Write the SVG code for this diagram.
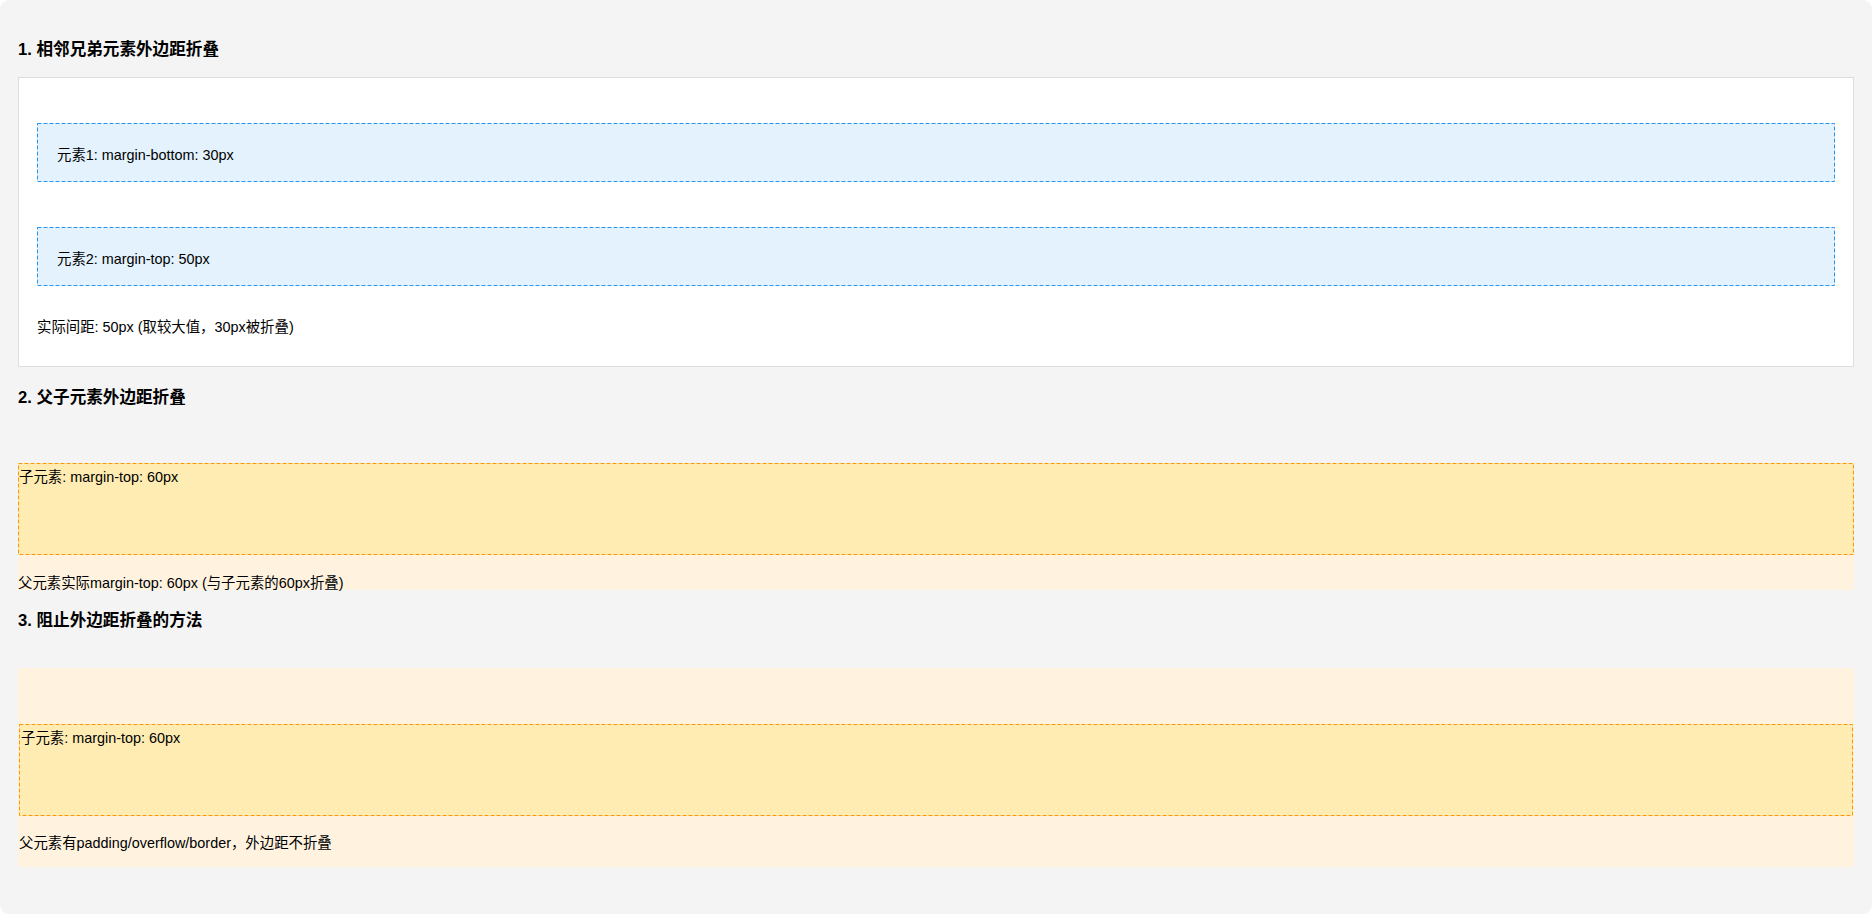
<svg xmlns="http://www.w3.org/2000/svg" width="1872" height="914" viewBox="0 0 1872 914">
  <style>
    .title { font-family: "Liberation Sans", "Noto Sans CJK SC", sans-serif; font-size: 16.6px; font-weight: bold; fill: #000; }
    .txt { font-family: "Liberation Sans", "Noto Sans CJK SC", sans-serif; font-size: 14.4px; fill: #000; }
    .blue { fill: #e3f2fd; stroke: #2196f3; stroke-width: 1; stroke-dasharray: 4 2; }
    .orange { fill: #ffecb3; stroke: #ff9800; stroke-width: 1; stroke-dasharray: 4 2; }
    .parent { fill: #fff3e0; }
  </style>
  <rect x="0" y="0" width="1872" height="914" fill="#ffffff"/>
  <rect id="background" x="0" y="0" width="1872" height="914" rx="9" fill="#f4f4f4"/>

  <g id="section1">
    <text class="title" x="18" y="55">1. 相邻兄弟元素外边距折叠</text>
    <rect x="18.5" y="77.5" width="1835" height="289" fill="#ffffff" stroke="#dddddd" stroke-width="1"/>
    <g id="element1">
      <rect class="blue" x="37.5" y="123.5" width="1797" height="58"/>
      <text class="txt" x="57" y="160">元素1: margin-bottom: 30px</text>
    </g>
    <g id="element2">
      <rect class="blue" x="37.5" y="227.5" width="1797" height="58"/>
      <text class="txt" x="57" y="264">元素2: margin-top: 50px</text>
    </g>
    <text class="txt" x="37" y="331.5">实际间距: 50px (取较大值，30px被折叠)</text>
  </g>

  <g id="section2">
    <text class="title" x="18" y="403">2. 父子元素外边距折叠</text>
    <g id="parent2">
      <rect class="parent" x="18" y="463" width="1836" height="127"/>
      <g id="child2">
        <rect class="orange" x="18.5" y="463.5" width="1835" height="91"/>
        <text class="txt" x="19" y="482">子元素: margin-top: 60px</text>
      </g>
      <text class="txt" x="18" y="587.5">父元素实际margin-top: 60px (与子元素的60px折叠)</text>
    </g>
  </g>

  <g id="section3">
    <text class="title" x="18" y="626">3. 阻止外边距折叠的方法</text>
    <g id="parent3">
      <rect class="parent" x="18" y="668" width="1836" height="199"/>
      <g id="child3">
        <rect class="orange" x="19.5" y="724.5" width="1833" height="91"/>
        <text class="txt" x="21" y="743">子元素: margin-top: 60px</text>
      </g>
      <text class="txt" x="19" y="847.5">父元素有padding/overflow/border，外边距不折叠</text>
    </g>
  </g>

  <g id="connectors"/>
</svg>
